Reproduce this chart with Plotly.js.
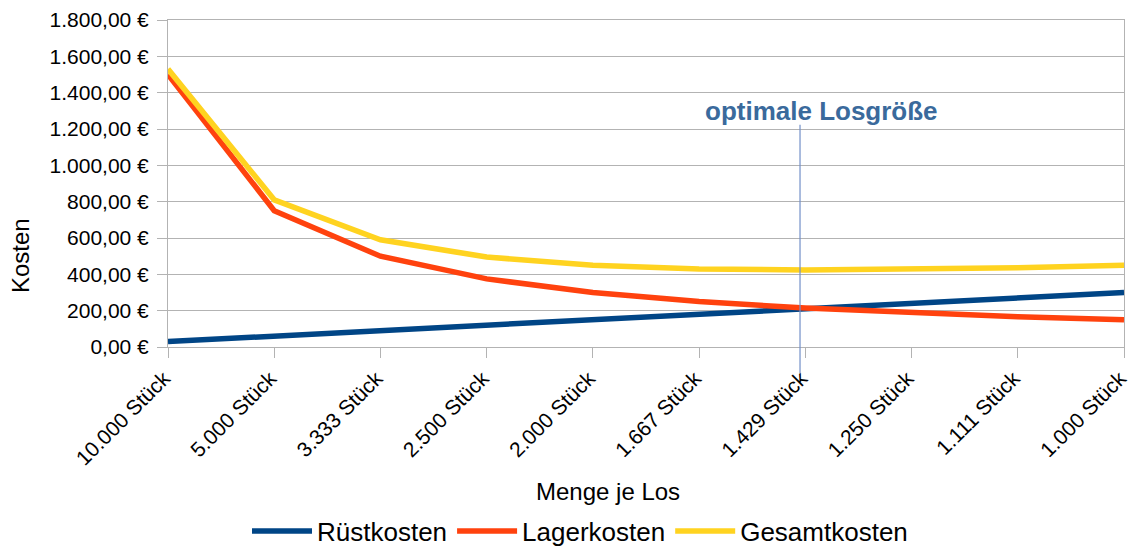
<!DOCTYPE html>
<html>
<head>
<meta charset="utf-8">
<script src="https://cdn.plot.ly/plotly-3.0.1.min.js"></script>
<style>html,body{margin:0;padding:0;background:#fff;}#chart{width:1129px;height:546px;}</style>
</head>
<body>
<div id="chart"></div>
<script>
const categories = ["10.000 Stück","5.000 Stück","3.333 Stück","2.500 Stück","2.000 Stück","1.667 Stück","1.429 Stück","1.250 Stück","1.111 Stück","1.000 Stück"];
const ruestkosten = [30, 60, 90, 120, 150, 180, 210, 240, 270, 300];
const lagerkosten = [1500, 750, 500, 375, 300, 250, 214.29, 187.5, 166.67, 150];
const gesamtkosten = [1530, 810, 590, 495, 450, 430, 424.29, 427.5, 436.67, 450];
const yTickVals = [0, 200, 400, 600, 800, 1000, 1200, 1400, 1600, 1800];
const yTickText = ["0,00 €","200,00 €","400,00 €","600,00 €","800,00 €","1.000,00 €","1.200,00 €","1.400,00 €","1.600,00 €","1.800,00 €"];
const optimumIndex = 5.95;
const optimumLabel = "optimale Losgröße";
const xTitle = "Menge je Los";
const yTitle = "Kosten";

const font = "Liberation Sans, Arial, sans-serif";
const traces = [
  {x: categories, y: ruestkosten, name: "Rüstkosten", type: "scatter", mode: "lines", line: {color: "#004586", width: 5.5}},
  {x: categories, y: lagerkosten, name: "Lagerkosten", type: "scatter", mode: "lines", line: {color: "#ff420e", width: 5.5}},
  {x: categories, y: gesamtkosten, name: "Gesamtkosten", type: "scatter", mode: "lines", line: {color: "#ffd320", width: 5.5}}
];
const layout = {
  width: 1129, height: 546,
  margin: {l: 168, r: 5, t: 20, b: 199},
  paper_bgcolor: "#fff", plot_bgcolor: "#fff",
  font: {family: font, color: "#000", size: 21},
  showlegend: true,
  legend: {orientation: "h", xref: "container", yref: "container", x: 580 / 1129, xanchor: "center", y: (546 - 531) / 546, yanchor: "middle", font: {size: 26, family: font}, traceorder: "normal", itemwidth: 60, tracegroupgap: 0},
  xaxis: {
    type: "category", range: [0, 9], tickangle: -45, automargin: false,
    showgrid: false, showline: true, linecolor: "#b3b3b3", linewidth: 1, mirror: true,
    ticks: "outside", ticklen: 10, tickcolor: "#b3b3b3",
    tickfont: {size: 21, family: font}, ticklabelshift: -4,
    zeroline: false
  },
  yaxis: {
    range: [0, 1800], tickvals: yTickVals, ticktext: yTickText, automargin: false,
    showgrid: true, gridcolor: "#b3b3b3", gridwidth: 1,
    showline: true, linecolor: "#b3b3b3", linewidth: 1, mirror: true,
    ticks: "outside", ticklen: 10, tickcolor: "#b3b3b3",
    tickfont: {size: 21, family: font}, ticklabelstandoff: 4,
    zeroline: false
  },
  shapes: [
    {type: "line", xref: "x", yref: "paper", x0: optimumIndex, x1: optimumIndex, y0: -0.08, y1: 0.68, line: {color: "#7290c8", width: 1.2}, layer: "above"}
  ],
  annotations: [
    {text: "<b>" + optimumLabel + "</b>", xref: "x", yref: "paper", x: optimumIndex + 0.2, y: 0.723, showarrow: false, xanchor: "center", yanchor: "middle", font: {size: 26, color: "#3a6a9c", family: font}},
    {text: xTitle, xref: "paper", yref: "paper", x: (608 - 168) / 956, y: (347 - 491) / 327, showarrow: false, xanchor: "center", yanchor: "middle", font: {size: 24, family: font}},
    {text: yTitle, xref: "paper", yref: "paper", x: (20 - 168) / 956, y: (347 - 256) / 327, showarrow: false, xanchor: "center", yanchor: "middle", textangle: -90, font: {size: 24, family: font}}
  ]
};
Plotly.newPlot("chart", traces, layout, {staticPlot: true, displayModeBar: false});
</script>
</body>
</html>
